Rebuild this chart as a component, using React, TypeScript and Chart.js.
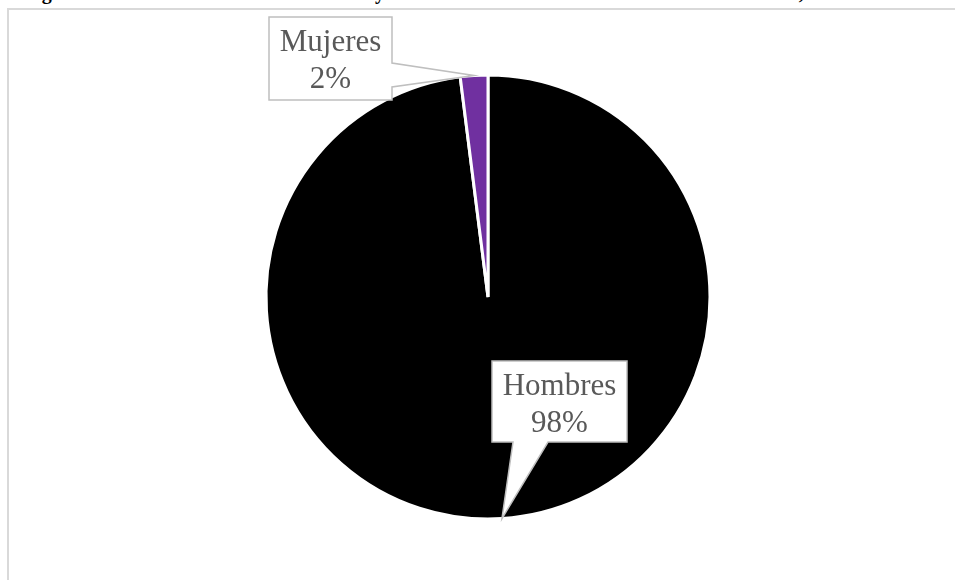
import React, { useEffect, useRef } from "react";
import { Chart, registerables } from "chart.js";

Chart.register(...registerables);

const categories: string[] = ["Hombres", "Mujeres"];
const values: number[] = [98, 2];
const sliceColors: string[] = ["#000000", "#7030A0"];
const titleText = "Figura 1. Distribución de los 40 docentes y directivos de la institución educativa del distrito, 2021";

type Callout = { dx: number; dy: number; w: number; h: number; side: "bottom" | "right"; a: number; b: number };

const callouts: Callout[] = [
  { dx: 4, dy: 64, w: 135, h: 81, side: "bottom", a: 21, b: 56 },
  { dx: -219, dy: -280, w: 123, h: 83, side: "right", a: 46, b: 70 },
];

const calloutPlugin = {
  id: "callouts",
  afterDatasetsDraw(chart: any) {
    const ctx: CanvasRenderingContext2D = chart.ctx;
    const meta = chart.getDatasetMeta(0);
    const data: number[] = chart.data.datasets[0].data;
    const total = data.reduce((s: number, v: number) => s + v, 0);
    meta.data.forEach((arc: any, i: number) => {
      const p = arc.getProps(["x", "y", "startAngle", "endAngle", "outerRadius"], true);
      const mid = (p.startAngle + p.endAngle) / 2;
      const tx = p.x + Math.cos(mid) * p.outerRadius;
      const ty = p.y + Math.sin(mid) * p.outerRadius;
      const c = callouts[i];
      const left = p.x + c.dx;
      const top = p.y + c.dy;
      const right = left + c.w;
      const bottom = top + c.h;
      ctx.save();
      ctx.beginPath();
      ctx.moveTo(left, top);
      ctx.lineTo(right, top);
      if (c.side === "right") {
        ctx.lineTo(right, top + c.a);
        ctx.lineTo(tx, ty);
        ctx.lineTo(right, top + c.b);
        ctx.lineTo(right, bottom);
        ctx.lineTo(left, bottom);
      } else {
        ctx.lineTo(right, bottom);
        ctx.lineTo(left + c.b, bottom);
        ctx.lineTo(tx, ty);
        ctx.lineTo(left + c.a, bottom);
        ctx.lineTo(left, bottom);
      }
      ctx.closePath();
      ctx.fillStyle = "#ffffff";
      ctx.fill();
      ctx.lineWidth = 1.5;
      ctx.strokeStyle = "#bfbfbf";
      ctx.stroke();
      ctx.fillStyle = "#595959";
      ctx.font = "31px 'Liberation Serif', 'Times New Roman', serif";
      ctx.textAlign = "center";
      ctx.textBaseline = "alphabetic";
      const cx = left + c.w / 2;
      ctx.fillText(String(chart.data.labels[i]), cx, top + 34);
      ctx.fillText(Math.round((data[i] / total) * 100) + "%", cx, top + 71);
      ctx.restore();
    });
  },
};

export default function App() {
  const ref = useRef<HTMLCanvasElement | null>(null);
  useEffect(() => {
    if (!ref.current) return;
    const chart = new Chart(ref.current, {
      type: "pie",
      data: {
        labels: categories,
        datasets: [
          {
            data: values,
            backgroundColor: sliceColors,
            borderColor: "#ffffff",
            borderWidth: 3,
          },
        ],
      },
      options: {
        animation: false,
        responsive: false,
        devicePixelRatio: 1,
        radius: 222,
        layout: { padding: { left: 21, top: 14, right: 0, bottom: 0 } },
        plugins: { legend: { display: false }, tooltip: { enabled: false }, title: { display: false } },
      } as any,
      plugins: [calloutPlugin],
    });
    return () => chart.destroy();
  }, []);
  return (
    <div style={{ position: "fixed", left: 0, top: 0, width: 955, height: 580, overflow: "hidden", background: "#ffffff" }}>
      <div
        style={{
          position: "absolute",
          left: 24,
          top: -18,
          whiteSpace: "nowrap",
          fontFamily: "'Liberation Serif', 'Times New Roman', serif",
          fontWeight: "bold",
          fontSize: 20,
          lineHeight: "20px",
          color: "#000000",
        }}
      >
        {titleText}
      </div>
      <div
        style={{
          position: "absolute",
          left: 7,
          top: 8,
          width: 960,
          height: 600,
          borderLeft: "2px solid #d9d9d9",
          borderTop: "2px solid #d9d9d9",
        }}
      />
      <canvas ref={ref} width={955} height={580} style={{ position: "absolute", left: 0, top: 0, width: 955, height: 580 }} />
    </div>
  );
}
